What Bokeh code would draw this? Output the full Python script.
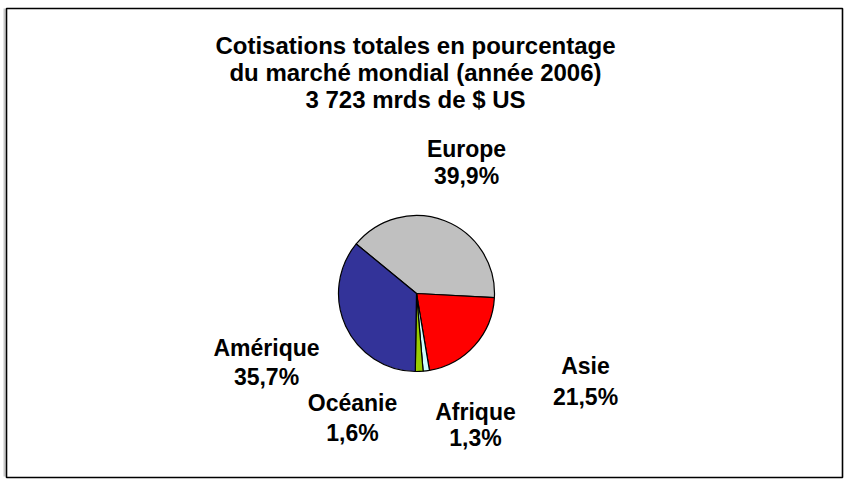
import math
from bokeh.plotting import figure
from bokeh.models import ColumnDataSource, Range1d
from bokeh.core.properties import value
from bokeh.embed import file_html
from bokeh.resources import INLINE

# ---- data ----
regions = ["Europe", "Asie", "Afrique", "Océanie", "Amérique"]
shares = [39.9, 21.5, 1.3, 1.6, 35.7]
pct_labels = ["39,9%", "21,5%", "1,3%", "1,6%", "35,7%"]
colors = ["#C0C0C0", "#FF0000", "#CCFFFF", "#99CC00", "#333399"]
title_lines = ["Cotisations totales en pourcentage",
               "du marché mondial (année 2006)",
               "3 723 mrds de $ US"]

# ---- layout (plot units = pixels, y upwards) ----
W, H = 850, 484
cx, cy, r = 416, 191, 78
start_deg = 140.6
label_pos = {  # x, y of name line, y of percent line
    "Europe": (466, 336, 309),
    "Asie": (585, 119, 88),
    "Afrique": (475, 73, 47),
    "Océanie": (352, 82, 52),
    "Amérique": (266, 137, 108),
}
FONT = "Liberation Sans"

total = sum(shares)
starts, ends = [], []
a = start_deg
for s in shares:
    sweep = s / total * 360.0
    starts.append(math.radians(a - sweep))
    ends.append(math.radians(a))
    a -= sweep

p = figure(width=W, height=H, output_backend="svg", toolbar_location=None,
           x_range=Range1d(0, W), y_range=Range1d(0, H),
           min_border=0, match_aspect=False)
p.axis.visible = False
p.grid.visible = False
p.outline_line_color = None
p.background_fill_color = "white"
p.border_fill_color = "white"

# chart-area border
p.quad(left=[3], right=[5], bottom=[8], top=[476], fill_color="#C8C8C8",
       line_color=None)
p.quad(left=[6], right=[842], bottom=[7], top=[476], fill_color=None,
       line_color="black", line_width=1.6)

src = ColumnDataSource(dict(x=[cx] * len(shares), y=[cy] * len(shares),
                            start=starts, end=ends, color=colors))
p.wedge(x="x", y="y", radius=r, start_angle="start", end_angle="end",
        direction="anticlock", fill_color="color", line_color="black",
        line_width=1.2, source=src)

# title
p.text(x=[415] * 3, y=[439, 412, 385], text=title_lines,
       text_font=value(FONT), text_font_style="bold", text_font_size="24px",
       text_align="center", text_baseline="middle", text_color="black")

# labels
lx, ly, lt = [], [], []
for name, pct in zip(regions, pct_labels):
    x, y1, y2 = label_pos[name]
    lx += [x, x]
    ly += [y1, y2]
    lt += [name, pct]
p.text(x=lx, y=ly, text=lt, text_font=value(FONT), text_font_style="bold",
       text_font_size="23px", text_align="center", text_baseline="middle",
       text_color="black")

open("out.html", "w").write(file_html(p, INLINE))
